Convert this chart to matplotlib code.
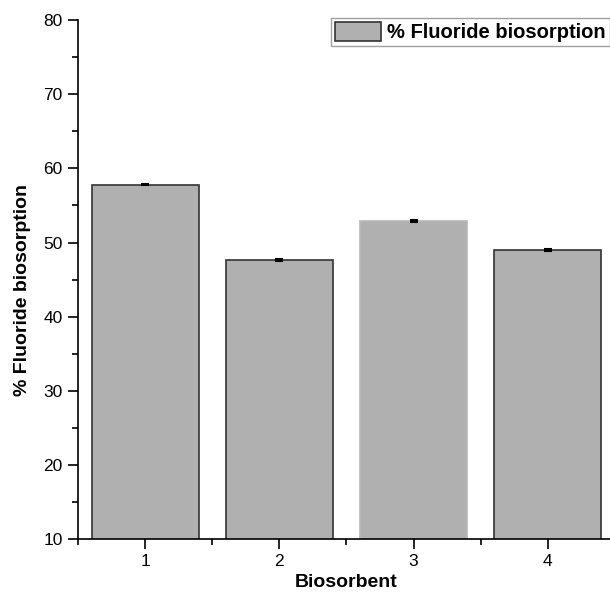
import matplotlib
matplotlib.use("Agg")
import matplotlib.pyplot as plt
from matplotlib.ticker import MultipleLocator

plt.rcParams['font.family'] = ['Liberation Sans', 'DejaVu Sans']

# biosorption results per biosorbent
biosorbents = [1, 2, 3, 4]
removal = [57.8, 47.65, 52.9, 48.95]
removal_err = [0.08, 0.08, 0.1, 0.15]
edge_colors = ['#333333', '#333333', '#b8b8b8', '#333333']

fig = plt.figure(figsize=(6.10, 5.92), dpi=100)
ax = fig.add_axes([0.128, 0.0895, 0.88, 0.8765])

bars = ax.bar(biosorbents, removal, width=0.8, bottom=0, color='#b0b0b0',
              edgecolor=edge_colors, linewidth=1.2,
              label='% Fluoride biosorption', zorder=2)
ax.errorbar(biosorbents, removal, yerr=removal_err, fmt='none',
            ecolor='black', elinewidth=1.2, capsize=2.8, capthick=1.5, zorder=3)

ax.set_xlim(0.5, 4.5)
ax.set_ylim(10, 80)
ax.xaxis.set_major_locator(MultipleLocator(1))
ax.xaxis.set_minor_locator(MultipleLocator(0.5))
ax.yaxis.set_major_locator(MultipleLocator(10))
ax.yaxis.set_minor_locator(MultipleLocator(5))

for side in ['top', 'right']:
    ax.spines[side].set_visible(False)
for side in ['left', 'bottom']:
    ax.spines[side].set_linewidth(1.2)

ax.tick_params(which='major', direction='out', length=7, width=1.2,
               labelsize=12.5, pad=4)
ax.tick_params(which='minor', direction='out', length=4, width=1.2)

ax.set_xlabel('Biosorbent', fontsize=14, fontweight='bold')
ax.set_ylabel('% Fluoride biosorption', fontsize=14, fontweight='bold')
ax.xaxis.set_label_coords(0.5, -0.068)
ax.yaxis.set_label_coords(-0.088, 0.48)

leg = fig.legend(loc='upper left', bbox_to_anchor=(331 / 610, 1 - 18 / 592),
                 prop={'weight': 'bold', 'size': 14.5},
                 frameon=True, fancybox=False, borderpad=0.2,
                 handlelength=2.3, handleheight=1.05, handletextpad=0.3,
                 borderaxespad=0)
leg.get_frame().set_edgecolor('#888888')
leg.get_frame().set_linewidth(1.0)

fig.savefig('out.png', dpi=100)
